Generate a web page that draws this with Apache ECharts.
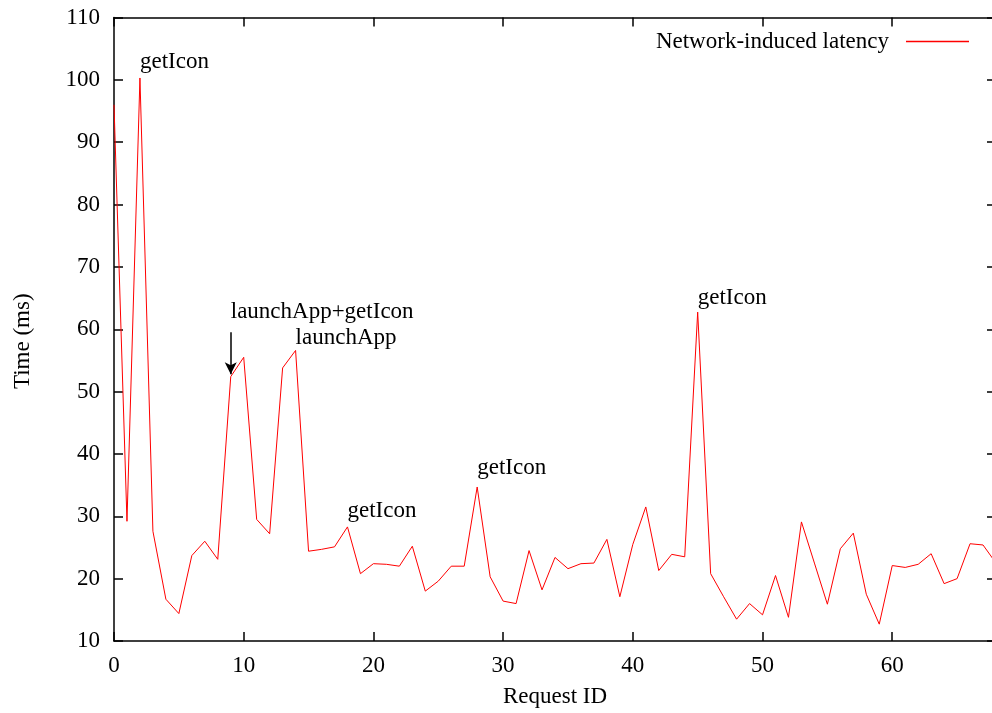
<!DOCTYPE html>
<html>
<head>
<meta charset="utf-8">
<script src="https://cdn.jsdelivr.net/npm/echarts@6/dist/echarts.min.js"></script>
<style>
  html, body { margin: 0; padding: 0; background: #fff; overflow: hidden; }
  /* a bit wider than the window so the right border falls just off-screen */
  #chart { width: 1000px; height: 713px; }
</style>
</head>
<body>
<div id="chart"></div>
<script>
// latency per request id (ms), request ids are 0..68
var latency = [96, 29.2, 100.3, 27.6, 16.7, 14.4, 23.7, 26.0, 23.1, 52.4,
  55.5, 29.5, 27.2, 53.8, 56.6, 24.4, 24.7, 25.1, 28.3, 20.8,
  22.4, 22.3, 22.0, 25.2, 18.0, 19.6, 22.0, 22.0, 34.7, 20.3,
  16.4, 16.0, 24.5, 18.2, 23.4, 21.6, 22.4, 22.5, 26.3, 17.1,
  25.5, 31.5, 21.3, 23.9, 23.5, 62.75, 20.8, 17.1, 13.5, 16.0,
  14.2, 20.5, 13.8, 29.1, 22.5, 15.9, 24.8, 27.3, 17.5, 12.7,
  22.1, 21.8, 22.3, 24.0, 19.2, 20.0, 25.6, 25.4, 22.5];

// text annotations: [x, y, text] in data coords
var notes = [
  [2, 102.8, 'getIcon'],
  [9, 62.8, 'launchApp+getIcon'],
  [14, 58.6, 'launchApp'],
  [18, 30.9, 'getIcon'],
  [28, 37.8, 'getIcon'],
  [45, 65.0, 'getIcon']
];
// arrow from -> to
var arrowFrom = [9, 59.5];
var arrowTo = [9, 52.8];

var seriesName = 'Network-induced latency';
var FONT = 'Liberation Serif';
var FS = 23;

var chart = echarts.init(document.getElementById('chart'));

var points = latency.map(function (v, i) { return [i, v]; });

var axisCommon = {
  type: 'value',
  axisLine: { show: true, onZero: false, lineStyle: { color: '#000', width: 1.5 } },
  axisTick: { show: true, inside: true, length: 9, lineStyle: { color: '#000', width: 1.5 } },
  splitLine: { show: false }
};

var option = {
  animation: false,
  backgroundColor: '#fff',
  grid: { left: 114, top: 17.5, right: 4, bottom: 71.5, containLabel: false },
  legend: {
    data: [{ name: seriesName, icon: 'rect' }],
    right: 26,
    top: 25,
    align: 'right',
    itemWidth: 63,
    itemHeight: 1.5,
    itemStyle: { color: '#ff0000' },
    textStyle: { fontFamily: FONT, fontSize: FS, color: '#000', padding: [0, 12, 0, 0] }
  },
  xAxis: [
    Object.assign({}, axisCommon, {
      min: 0, max: 68, interval: 10,
      position: 'bottom',
      name: 'Request ID',
      nameLocation: 'middle',
      nameGap: 44,
      nameTextStyle: { fontFamily: FONT, fontSize: FS, color: '#000', padding: [0, 0, 0, 0] },
      axisLabel: { fontFamily: FONT, fontSize: FS, color: '#000', margin: 13,
        showMaxLabel: false }
    }),
    Object.assign({}, axisCommon, {
      min: 0, max: 68, interval: 10,
      position: 'top',
      axisLabel: { show: false }
    })
  ],
  yAxis: [
    Object.assign({}, axisCommon, {
      min: 10, max: 110, interval: 10,
      position: 'left',
      name: 'Time (ms)',
      nameLocation: 'middle',
      nameGap: 80,
      nameTextStyle: { fontFamily: FONT, fontSize: FS, color: '#000', padding: [0, 24, 0, 0] },
      axisLabel: { fontFamily: FONT, fontSize: FS, color: '#000', margin: 14 }
    }),
    Object.assign({}, axisCommon, {
      min: 10, max: 110, interval: 10,
      position: 'right',
      axisLabel: { show: false }
    })
  ],
  series: [{
    name: seriesName,
    type: 'line',
    data: points,
    symbol: 'none',
    lineStyle: { color: '#ff0000', width: 1 },
    itemStyle: { color: '#ff0000' },
    markPoint: {
      symbol: 'circle',
      symbolSize: 0,
      label: {
        show: true,
        position: 'inside',
        align: 'left',
        verticalAlign: 'middle',
        fontFamily: FONT,
        fontSize: FS,
        color: '#000',
        formatter: function (p) { return p.name; }
      },
      data: notes.map(function (n) {
        return { name: n[2], coord: [n[0], n[1]] };
      })
    },
    markLine: {
      silent: true,
      symbol: ['none', 'arrow'],
      symbolSize: [9, 12],
      label: { show: false },
      lineStyle: { color: '#000', width: 1.5, type: 'solid' },
      data: [[{ coord: arrowFrom }, { coord: arrowTo }]]
    }
  }]
};

chart.setOption(option);
</script>
</body>
</html>
